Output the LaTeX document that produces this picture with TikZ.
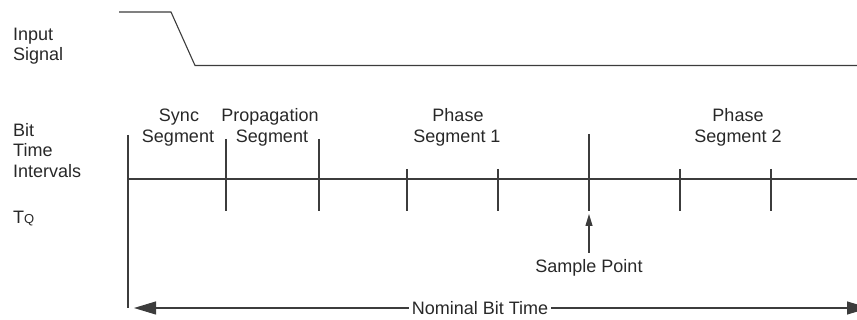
\documentclass[tikz,border=0pt]{standalone}
\usepackage{fontspec}
\setmainfont{Liberation Sans}
\usetikzlibrary{arrows.meta}
\definecolor{lc}{RGB}{60,60,60}
\definecolor{tc}{RGB}{40,40,40}
\begin{document}
\begin{tikzpicture}[x=1pt,y=-1pt,
  ln/.style={line width=1.1pt, draw=lc},
  lbl/.style={inner sep=0pt, anchor=base, font=\fontsize{18}{21}\selectfont, text=tc},
  lbll/.style={lbl, anchor=base west}]
\useasboundingbox (0,0) rectangle (857,320);
\clip (0,0) rectangle (857,320);
% input signal
\coordinate (s0) at (119,12);
\coordinate (s1) at (171,12);
\coordinate (s2) at (195,65.5);
\coordinate (s3) at (857,65.5);
\draw[ln] (s0) -- (s1) -- (s2) -- (s3);
% left labels
\node[lbll] (in1) at (13,40.7) {Input};
\node[lbll] (in2) at (13,60.7) {Signal};
\node[lbll] (bt1) at (13,136.7) {Bit};
\node[lbll] (bt2) at (13,156.7) {Time};
\node[lbll] (bt3) at (13,177.3) {Intervals};
\node[lbll] (tq) at (13,224) {T{\fontsize{13}{13}\selectfont Q}};
% axis
\coordinate (a0) at (128,179);
\coordinate (a1) at (857,179);
\draw[ln] (a0) -- (a1);
% ticks
\coordinate (t0a) at (128,135); \coordinate (t0b) at (128,308);
\coordinate (t1a) at (226,139); \coordinate (t1b) at (226,211);
\coordinate (t2a) at (319,139); \coordinate (t2b) at (319,211);
\coordinate (t3a) at (407,169); \coordinate (t3b) at (407,211);
\coordinate (t4a) at (498,169); \coordinate (t4b) at (498,211);
\coordinate (t5a) at (589,134); \coordinate (t5b) at (589,211);
\coordinate (t6a) at (680,169); \coordinate (t6b) at (680,211);
\coordinate (t7a) at (771,169); \coordinate (t7b) at (771,211);
\foreach \i in {0,...,7} { \draw[ln] (t\i a) -- (t\i b); }
% segment labels
\node[lbl] (sy1) at (179,121.5) {Sync};
\node[lbl] (sy2) at (178,143) {Segment};
\node[lbl] (pr1) at (270,121.5) {Propagation};
\node[lbl] (pr2) at (272,143) {Segment};
\node[lbl] (p11) at (458,121.5) {Phase};
\node[lbl] (p12) at (457,143) {Segment 1};
\node[lbl] (p21) at (738,121.5) {Phase};
\node[lbl] (p22) at (738,143) {Segment 2};
% sample point
\node[lbl] (sp) at (589,273) {Sample Point};
\coordinate (sptip) at (589,214);
\draw[ln,-{Triangle[length=12pt,width=7pt]}] (sp.north |- 0,253) -- (sptip);
% nominal bit time
\node[lbl] (nbt) at (480,315) {Nominal Bit Time};
\coordinate (nl) at (134,308);
\coordinate (nr) at (869,308);
\draw[ln,-{Triangle[length=22pt,width=13pt]}] ([xshift=-3pt]nbt.west |- nl) -- (nl);
\draw[ln,-{Triangle[length=22pt,width=13pt]}] ([xshift=3pt]nbt.east |- nr) -- (nr);
\end{tikzpicture}
\end{document}
